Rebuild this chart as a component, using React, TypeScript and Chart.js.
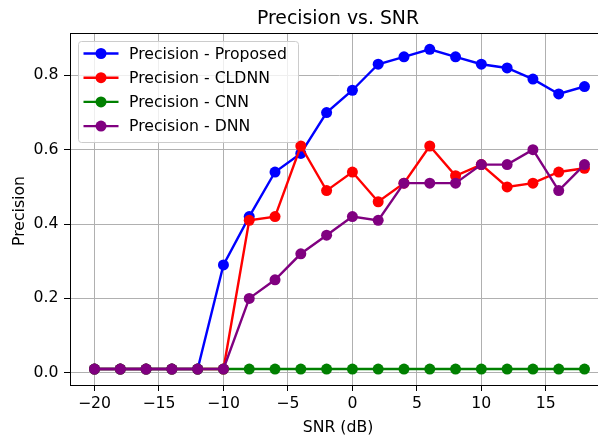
import { useEffect, useRef } from 'react';
import { Chart, registerables } from 'chart.js';

Chart.register(...registerables);

const snr = [-20, -18, -16, -14, -12, -10, -8, -6, -4, -2, 0, 2, 4, 6, 8, 10, 12, 14, 16, 18];
const proposed = [0.01, 0.01, 0.01, 0.01, 0.01, 0.29, 0.42, 0.54, 0.59, 0.70, 0.76, 0.83, 0.85, 0.87, 0.85, 0.83, 0.82, 0.79, 0.75, 0.77];
const cldnn = [0.01, 0.01, 0.01, 0.01, 0.01, 0.01, 0.41, 0.42, 0.61, 0.49, 0.54, 0.46, 0.51, 0.61, 0.53, 0.56, 0.50, 0.51, 0.54, 0.55];
const cnn = [0.01, 0.01, 0.01, 0.01, 0.01, 0.01, 0.01, 0.01, 0.01, 0.01, 0.01, 0.01, 0.01, 0.01, 0.01, 0.01, 0.01, 0.01, 0.01, 0.01];
const dnn = [0.01, 0.01, 0.01, 0.01, 0.01, 0.01, 0.20, 0.25, 0.32, 0.37, 0.42, 0.41, 0.51, 0.51, 0.51, 0.56, 0.56, 0.60, 0.49, 0.56];

const seriesNames = ['Precision - Proposed', 'Precision - CLDNN', 'Precision - CNN', 'Precision - DNN'];
const seriesColors = ['#0000ff', '#ff0000', '#008000', '#800080'];
const seriesValues = [proposed, cldnn, cnn, dnn];

const xTicks = [-20, -15, -10, -5, 0, 5, 10, 15];
const xTickLabels = ['\u221220', '\u221215', '\u221210', '\u22125', '0', '5', '10', '15'];
const yTicks = [0, 0.2, 0.4, 0.6, 0.8];
const yTickLabels = ['0.0', '0.2', '0.4', '0.6', '0.8'];

const titleText = 'Precision vs. SNR';
const xLabel = 'SNR (dB)';
const yLabel = 'Precision';

const FONT = '"DejaVu Sans", sans-serif';
const BASE = 15.7;
const CANVAS_W = 620;
const CANVAS_H = 439;

const decorPlugin = {
  id: 'decor',
  afterDraw(chart: any) {
    const { ctx, chartArea: a } = chart;
    ctx.save();
    // spines
    ctx.strokeStyle = '#000';
    ctx.lineWidth = 1;
    ctx.strokeRect(Math.round(a.left) + 0.5, Math.round(a.top) + 0.5, Math.round(a.right - a.left) - 1, Math.round(a.bottom - a.top));

    // title
    ctx.fillStyle = '#000';
    ctx.textAlign = 'center';
    ctx.textBaseline = 'alphabetic';
    ctx.font = `${BASE * 1.2}px ${FONT}`;
    ctx.fillText(titleText, 338, 24);

    // x label
    ctx.font = `${BASE}px ${FONT}`;
    ctx.fillText(xLabel, 338, 432);

    // y label
    ctx.save();
    ctx.translate(24, 211);
    ctx.rotate(-Math.PI / 2);
    ctx.fillText(yLabel, 0, 0);
    ctx.restore();

    // legend
    const lx = 78.5, ly = 41.5, lw = 220, lh = 101, r = 3;
    ctx.beginPath();
    ctx.moveTo(lx + r, ly);
    ctx.lineTo(lx + lw - r, ly);
    ctx.arcTo(lx + lw, ly, lx + lw, ly + r, r);
    ctx.lineTo(lx + lw, ly + lh - r);
    ctx.arcTo(lx + lw, ly + lh, lx + lw - r, ly + lh, r);
    ctx.lineTo(lx + r, ly + lh);
    ctx.arcTo(lx, ly + lh, lx, ly + lh - r, r);
    ctx.lineTo(lx, ly + r);
    ctx.arcTo(lx, ly, lx + r, ly, r);
    ctx.closePath();
    ctx.fillStyle = 'rgba(255,255,255,0.8)';
    ctx.fill();
    ctx.strokeStyle = '#cccccc';
    ctx.lineWidth = 1;
    ctx.stroke();

    ctx.textAlign = 'left';
    ctx.textBaseline = 'middle';
    ctx.font = `${BASE}px ${FONT}`;
    seriesNames.forEach((name, i) => {
      const y = 53.5 + i * 24.2;
      ctx.strokeStyle = seriesColors[i];
      ctx.lineWidth = 2.4;
      ctx.beginPath();
      ctx.moveTo(83.5, y);
      ctx.lineTo(118.5, y);
      ctx.stroke();
      ctx.fillStyle = seriesColors[i];
      ctx.beginPath();
      ctx.arc(101, y, 5.5, 0, Math.PI * 2);
      ctx.fill();
      ctx.fillStyle = '#000';
      ctx.fillText(name, 129, y + 1);
    });
    ctx.restore();
  },
};

export default function App() {
  const ref = useRef<HTMLCanvasElement>(null);

  useEffect(() => {
    if (!ref.current) return;
    const datasets = seriesNames.map((name, i) => ({
      label: name,
      data: snr.map((x, j) => ({ x, y: seriesValues[i][j] })),
      borderColor: seriesColors[i],
      backgroundColor: seriesColors[i],
      pointBackgroundColor: seriesColors[i],
      pointBorderColor: seriesColors[i],
      borderWidth: 2.4,
      pointRadius: 5.5,
      pointBorderWidth: 0,
      pointHoverRadius: 5.5,
      tension: 0,
      fill: false,
      order: seriesNames.length - i,
    }));
    const chart = new Chart(ref.current, {
      type: 'line',
      data: { datasets },
      options: {
        animation: false,
        responsive: false,
        devicePixelRatio: 1,
        layout: { padding: { top: 33, right: CANVAS_W - 609, left: 0, bottom: 0 } },
        plugins: {
          legend: { display: false },
          title: { display: false },
          tooltip: { enabled: false },
        },
        scales: {
          x: {
            type: 'linear',
            min: -21.9,
            max: 19.9,
            afterFit: (s: any) => { s.height = 54; },
            afterBuildTicks: (s: any) => { s.ticks = xTicks.map((v) => ({ value: v })); },
            ticks: {
              callback: (v: any) => xTickLabels[xTicks.indexOf(Number(v))],
              font: { family: FONT, size: BASE },
              color: '#000',
              padding: 4,
              maxRotation: 0,
              autoSkip: false,
            },
            grid: { color: '#b0b0b0', lineWidth: 1, tickColor: '#000', tickLength: 6, drawTicks: true },
            border: { display: false },
          },
          y: {
            type: 'linear',
            min: -0.033,
            max: 0.914,
            afterFit: (s: any) => { s.width = 70; },
            afterBuildTicks: (s: any) => { s.ticks = yTicks.map((v) => ({ value: v })); },
            ticks: {
              callback: (v: any) => {
                const idx = yTicks.findIndex((t) => Math.abs(t - Number(v)) < 1e-9);
                return idx >= 0 ? yTickLabels[idx] : '';
              },
              font: { family: FONT, size: BASE },
              color: '#000',
              padding: 5.5,
              autoSkip: false,
            },
            grid: { color: '#b0b0b0', lineWidth: 1, tickColor: '#000', tickLength: 6, drawTicks: true },
            border: { display: false },
          },
        },
      },
      plugins: [decorPlugin],
    });
    return () => chart.destroy();
  }, []);

  return (
    <div style={{ position: 'fixed', left: 0, top: 0, width: 598, height: 439, overflow: 'hidden', background: '#fff' }}>
      <canvas ref={ref} width={CANVAS_W} height={CANVAS_H} style={{ width: CANVAS_W, height: CANVAS_H, display: 'block' }} />
    </div>
  );
}
